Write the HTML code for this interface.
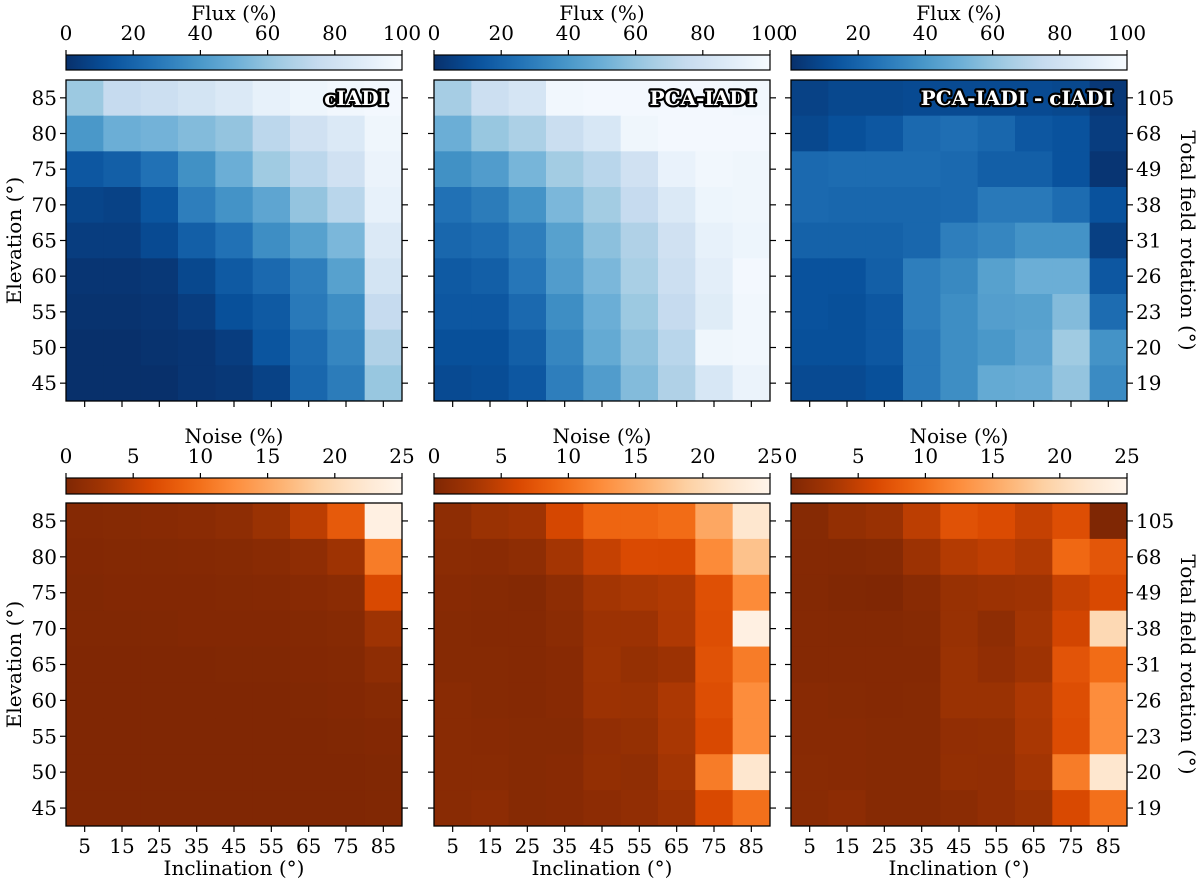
<!DOCTYPE html>
<html><head><meta charset="utf-8">
<style>
html,body{margin:0;padding:0;background:#fff;}
svg{display:block;font-family:"DejaVu Serif","Liberation Serif",serif;}
</style></head>
<body>
<svg id="fig" width="1200" height="883" viewBox="0 0 1200 883" xmlns="http://www.w3.org/2000/svg"></svg>
<script>
const inclinations = [5,15,25,35,45,55,65,75,85];
const elevations = [85,80,75,70,65,60,55,50,45];
const rotations = [105,68,49,38,31,26,23,20,19];
const fluxTicks = [0,20,40,60,80,100];
const noiseTicks = [0,5,10,15,20,25];

const fluxCIADI = [
[62,75,78,82,86,92,95,97,98],
[40,50,52,56,60,72,80,86,96],
[15,18,25,37,50,63,72,80,94],
[8,7,14,30,38,46,60,71,92],
[5,5,10,18,25,36,44,54,86],
[2,2,3,9,16,22,30,44,82],
[1,1,2,5,12,16,28,36,75],
[0,0,1,2,5,14,23,33,68],
[0,0,0,2,3,7,21,29,61]];
const fluxPCA = [
[65,78,83,97,98,98,98,98,97],
[50,61,67,77,84,96,98,98,98],
[37,42,53,64,71,80,93,97,96],
[25,29,38,54,64,75,86,95,96],
[21,23,30,44,58,68,80,92,95],
[16,18,27,42,54,66,78,90,98],
[15,15,22,36,50,62,75,88,97],
[12,12,18,33,48,59,71,96,97],
[10,11,15,30,42,56,68,84,94]];
const fluxDiff = [
[7,9,9,10,10,10,10,9,3],
[9,12,15,22,24,21,15,13,5],
[22,23,23,23,22,18,18,13,2],
[22,21,21,21,22,28,28,23,13],
[19,19,19,21,30,33,38,38,6],
[13,13,18,30,34,44,50,50,15],
[13,12,15,30,36,43,44,56,23],
[12,12,15,28,36,40,45,63,38],
[10,10,12,28,36,48,49,60,35]];
const noiseCIADI = [
[0.5,0.6,0.7,0.9,1.2,2.2,4.5,8,24],
[0.3,0.4,0.4,0.5,0.6,0.8,1.3,2.5,11],
[0.2,0.3,0.3,0.3,0.4,0.5,0.7,1.0,6.3],
[0.2,0.2,0.2,0.3,0.3,0.3,0.4,0.6,2.5],
[0.1,0.1,0.1,0.1,0.2,0.2,0.3,0.4,1.2],
[0.1,0.1,0.1,0.1,0.1,0.1,0.2,0.3,0.6],
[0.1,0.1,0.1,0.1,0.1,0.1,0.1,0.2,0.3],
[0.1,0.1,0.1,0.1,0.1,0.1,0.1,0.1,0.2],
[0.1,0.1,0.1,0.1,0.1,0.1,0.1,0.1,0.2]];
const noisePCA = [
[1.2,2.2,2.6,6,9,9,9.6,15,22],
[1,0.9,1.2,3,5,6.4,6.3,12.3,17.5],
[0.7,0.6,0.4,1.2,2.9,3.4,3.8,7,12.3],
[0.6,0.5,0.5,1,2.3,2.3,3.7,6.8,24],
[0.6,0.6,0.5,0.7,2.4,1.8,2.3,7.2,11],
[0.8,0.6,0.5,0.7,2.3,2.2,3.5,6.8,12.5],
[0.8,0.7,0.6,0.6,1.5,1.8,3.3,6.3,12.5],
[0.8,0.8,0.6,0.7,1.6,1.4,2.9,11,22],
[0.8,1.1,0.6,0.7,1.1,1.5,2.3,6.3,10]];
const noiseDiff = [
[0.6,1.6,2.1,4.5,7.2,6.5,5,6.8,0],
[0.5,0.4,0.6,2.3,4,4.6,3.8,9.3,7.6],
[0.4,0.2,0.1,0.8,2,2.3,2.6,5,6.3],
[0.5,0.4,0.4,0.6,2,1.2,2.9,5.8,20],
[0.5,0.5,0.5,0.5,2.2,1.5,2.5,7.4,9.6],
[0.7,0.6,0.5,0.6,2.2,2.2,3.5,6.8,12.5],
[0.7,0.7,0.6,0.6,1.5,1.6,3.3,6.6,12.5],
[0.8,0.7,0.6,0.6,1.6,1.5,2.9,11,22],
[0.8,1.1,0.6,0.6,1,1.5,2.2,6.3,10]];

const BLUES = ['#08306b','#08519c','#2171b5','#4292c6','#6baed6','#9ecae1','#c6dbef','#deebf7','#f7fbff'];
const ORANGES = ['#7f2704','#a63603','#d94801','#f16913','#fd8d3c','#fdae6b','#fdd0a2','#fee6ce','#fff5eb'];
function hex2rgb(h){return [parseInt(h.slice(1,3),16),parseInt(h.slice(3,5),16),parseInt(h.slice(5,7),16)];}
function cmap(stops,t){
  t=Math.max(0,Math.min(1,t));
  const p=t*(stops.length-1), i=Math.min(Math.floor(p),stops.length-2), f=p-i;
  const a=hex2rgb(stops[i]), b=hex2rgb(stops[i+1]);
  return 'rgb('+a.map((v,k)=>Math.round(v+(b[k]-v)*f)).join(',')+')';
}
const NS='http://www.w3.org/2000/svg';
const svg=document.getElementById('fig');
function el(tag,attrs,parent,text){
  const e=document.createElementNS(NS,tag);
  for(const k in attrs) e.setAttribute(k,attrs[k]);
  if(text!==undefined) e.textContent=text;
  (parent||svg).appendChild(e); return e;
}
const W=336;
const cols=[66,434,791];
const rowsTop={hy:80,hh:321,cy:55,ch:15};
const rowsBot={hy:503,hh:323,cy:478,ch:16};
const FS=20;

function colorbar(x,row,stops,ticks,vmax,title,name){
  const g=el('g',{},svg);
  
  
  const gid=name+'-grad';
  const defs=el('defs',{},g);
  const lg=el('linearGradient',{id:gid,x1:'0',x2:'1',y1:'0',y2:'0'},defs);
  for(let i=0;i<=20;i++) el('stop',{offset:(i/20),'stop-color':cmap(stops,i/20)},lg);
  el('rect',{x:x,y:row.cy,width:W,height:row.ch,fill:'url(#'+gid+')',stroke:'#000','stroke-width':1.2},g);
  ticks.forEach(v=>{
    const tx=x+v/vmax*W;
    el('line',{x1:tx,x2:tx,y1:row.cy,y2:row.cy-5,stroke:'#000','stroke-width':1.2},g);
    const t=el('text',{x:tx,y:row.cy-15,'font-size':FS,'text-anchor':'middle',fill:'#000'},g,String(v));
    
    
  });
  const tt=el('text',{x:x+W/2,y:row.cy-35,'font-size':FS,'text-anchor':'middle',fill:'#000'},g,title);
  
  
}

function heatmap(x,row,data,stops,vmax,name,label,opts){
  const g=el('g',{},svg);
  
  
  const cw=W/inclinations.length, chh=row.hh/elevations.length;
  const xs=i=>x+i*cw, ys=j=>row.hy+j*chh;
  data.forEach((r,j)=>r.forEach((v,i)=>{
    const c=el('rect',{x:xs(i),y:ys(j),width:cw+0.5,height:chh+0.5,fill:cmap(stops,v/vmax)},g);
    
    
  }));
  el('rect',{x:x,y:row.hy,width:W,height:row.hh,fill:'none',stroke:'#000','stroke-width':1.3},g);
  inclinations.forEach((v,i)=>{
    const tx=xs(i)+cw/2;
    el('line',{x1:tx,x2:tx,y1:row.hy+row.hh,y2:row.hy+row.hh+6,stroke:'#000','stroke-width':1.2},g);
    if(opts.xlabels){
      const t=el('text',{x:tx,y:row.hy+row.hh+27,'font-size':FS,'text-anchor':'middle'},g,String(v));
      
      
    }
  });
  elevations.forEach((v,j)=>{
    const ty=ys(j)+chh/2;
    el('line',{x1:x,x2:x-6,y1:ty,y2:ty,stroke:'#000','stroke-width':1.2},g);
    el('line',{x1:x+W,x2:x+W+6,y1:ty,y2:ty,stroke:'#000','stroke-width':1.2},g);
    if(opts.ylabels){
      const t=el('text',{x:x-9,y:ty+7,'font-size':FS,'text-anchor':'end'},g,String(v));
      
      
    }
    if(opts.rlabels){
      const t=el('text',{x:x+W+9,y:ty+7,'font-size':FS,'text-anchor':'start'},g,String(rotations[j]));
      
      
    }
  });
  if(label){
    const t=el('text',{x:x+W-14,y:row.hy+25,'font-size':20,'font-weight':'bold','text-anchor':'end',fill:'#fff',stroke:'#000','stroke-width':4.5,'paint-order':'stroke','stroke-linejoin':'round'},g,label);
    
    
  }
  if(opts.xtitle){
    const t=el('text',{x:x+W/2,y:row.hy+row.hh+49,'font-size':FS,'text-anchor':'middle'},g,'Inclination (°)');
    
    
  }
  if(opts.ylabels){
    const cy=row.hy+row.hh/2;
    const t=el('text',{x:0,y:0,'font-size':FS,'text-anchor':'middle',transform:'translate(21,'+cy+') rotate(-90)'},g,'Elevation (°)');
    
    
  }
  if(opts.rlabels){
    const cy=row.hy+row.hh/2;
    const t=el('text',{x:0,y:0,'font-size':FS,'text-anchor':'middle',transform:'translate(1181,'+cy+') rotate(90)'},g,'Total field rotation (°)');
    
    
  }
}

const fluxSets=[[fluxCIADI,'cIADI'],[fluxPCA,'PCA-IADI'],[fluxDiff,'PCA-IADI - cIADI']];
const noiseSets=[noiseCIADI,noisePCA,noiseDiff];
cols.forEach((x,k)=>{
  colorbar(x,rowsTop,BLUES,fluxTicks,100,'Flux (%)','flux-colorbar-'+(k+1));
  heatmap(x,rowsTop,fluxSets[k][0],BLUES,100,'flux-heatmap-'+(k+1),fluxSets[k][1],{xlabels:false,ylabels:k===0,rlabels:k===2});
  colorbar(x,rowsBot,ORANGES,noiseTicks,25,'Noise (%)','noise-colorbar-'+(k+1));
  heatmap(x,rowsBot,noiseSets[k],ORANGES,25,'noise-heatmap-'+(k+1),null,{xlabels:true,xtitle:true,ylabels:k===0,rlabels:k===2});
});
</script>
</body></html>
